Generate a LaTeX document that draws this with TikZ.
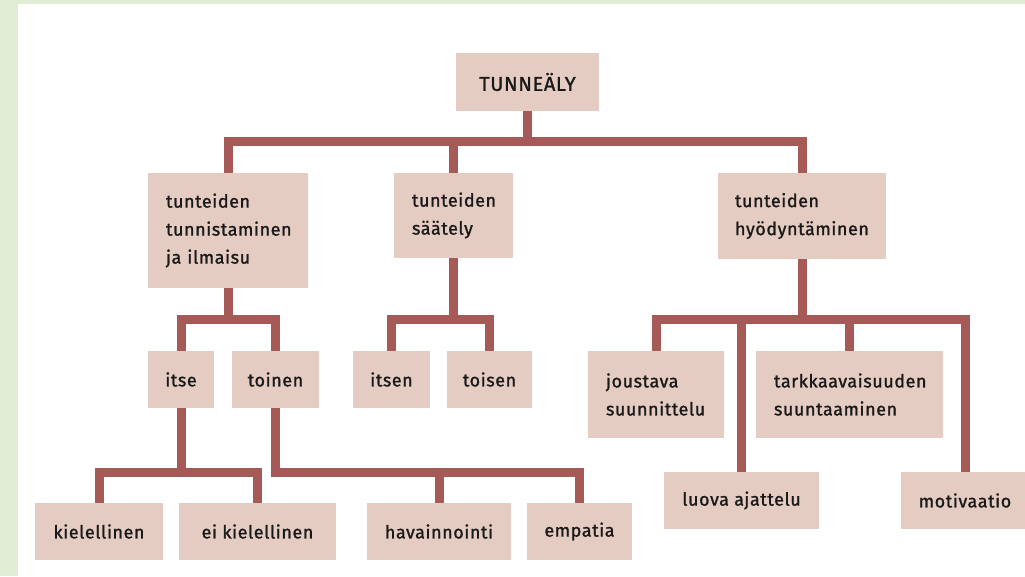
\documentclass[tikz,border=0pt]{standalone}
\usepackage{fontspec}
\setmainfont{Fira Sans}[FakeBold=1.2, LetterSpace=3]
\definecolor{boxfill}{HTML}{E5CCC2}
\definecolor{link}{HTML}{A55A57}
\definecolor{framegreen}{HTML}{E0ECD4}
\begin{document}
\begin{tikzpicture}[x=1pt,y=-1pt,
  box/.style={fill=boxfill, inner sep=0pt, text=black!90, font=\fontsize{18}{28}\selectfont},
  onebox/.style={box, minimum height=57pt},
  multibox/.style={box, align=left},
  conn/.style={draw=link, line width=9pt},
]
\useasboundingbox (0,0) rectangle (1025,576);
\clip (0,0) rectangle (1025,576);
\fill[white] (0,0) rectangle (1025,576);
\fill[framegreen] (0,0) rectangle (18,576);
\fill[framegreen] (0,0) rectangle (1025,4);

\coordinate (b0) at (0,141);
\coordinate (b1) at (0,319);
\coordinate (b2) at (0,472);

% nodes
\node[box, minimum width=143pt, minimum height=58pt, font=\fontsize{20}{28}\selectfont] (top) at (527.5,82) {TUNNEÄLY};
\node[multibox, minimum width=160pt, minimum height=115pt, text width=124pt] (n1) at (228,230.5) {tunteiden\\tunnistaminen\\ja ilmaisu};
\node[multibox, minimum width=119pt, minimum height=85pt, text width=83pt] (n2) at (453.5,215.5) {tunteiden\\säätely};
\node[multibox, minimum width=168pt, minimum height=86pt, text width=134pt] (n3) at (802,216) {tunteiden\\hyödyntäminen};

\node[onebox, minimum width=66pt] (itse) at (181,379.5) {itse};
\node[onebox, minimum width=87pt] (toinen) at (275.5,379.5) {toinen};
\node[onebox, minimum width=77pt] (itsen) at (391.5,379.5) {itsen};
\node[onebox, minimum width=85pt] (toisen) at (489.5,379.5) {toisen};

\node[multibox, minimum width=136pt, minimum height=87pt, text width=100pt] (jou) at (656,394.5) {joustava\\suunnittelu};
\node[multibox, minimum width=187pt, minimum height=87pt, text width=151pt] (tark) at (849.5,394.5) {tarkkaavaisuuden\\suuntaaminen};
\node[onebox, minimum width=155pt] (luova) at (741.5,500.5) {luova ajattelu};
\node[onebox, minimum width=128pt] (mot) at (965,500.5) {motivaatio};

\node[onebox, minimum width=128pt] (kiel) at (99,531.5) {kielellinen};
\node[onebox, minimum width=157pt] (eik) at (257.5,531.5) {ei kielellinen};
\node[onebox, minimum width=144pt] (hav) at (439,531.5) {havainnointi};
\node[onebox, minimum width=105pt] (emp) at (579.5,531.5) {empatia};

% connectors
\draw[conn] (n1.north) |- (n3.north |- b0) -- (n3.north);
\draw[conn] (top.south) -- (top.south |- b0);
\draw[conn] (n2.north) -- (n2.north |- b0);

\draw[conn] (itse.north) |- (toinen.north |- b1) -- (toinen.north);
\draw[conn] (n1.south) -- (n1.south |- b1);

\draw[conn] (itsen.north) |- (toisen.north |- b1) -- (toisen.north);
\draw[conn] (n2.south) -- (n2.south |- b1);

\draw[conn] (jou.north) |- (mot.north |- b1) -- (mot.north);
\draw[conn] (n3.south) -- (n3.south |- b1);
\draw[conn] (luova.north) -- (luova.north |- b1);
\draw[conn] (tark.north) -- (tark.north |- b1);

\draw[conn] (kiel.north) |- (eik.north |- b2) -- (eik.north);
\draw[conn] (itse.south) -- (itse.south |- b2);

\draw[conn] (toinen.south) |- (emp.north |- b2) -- (emp.north);
\draw[conn] (hav.north) -- (hav.north |- b2);
\end{tikzpicture}
\end{document}
